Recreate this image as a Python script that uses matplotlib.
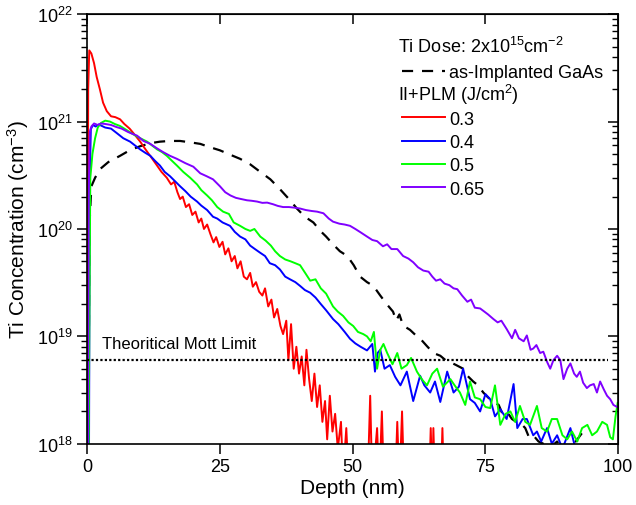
import numpy as np
import matplotlib
matplotlib.use('Agg')
import matplotlib.pyplot as plt
from matplotlib.lines import Line2D

plt.rcParams['font.family'] = ['Liberation Sans', 'DejaVu Sans']
plt.rcParams['mathtext.fontset'] = 'custom'
plt.rcParams['mathtext.rm'] = 'Liberation Sans'
plt.rcParams['mathtext.it'] = 'Liberation Sans:italic'

# depth (nm) and Ti concentration (cm^-3)
x_03 = [0.0, 0.2, 0.4, 0.8, 1.3, 1.8, 2.4, 3.0, 3.7, 4.5, 5.3, 6.2, 7.0, 8.0, 9.0, 10.0, 11.0, 12.0,
        13.0, 14.0, 15.0, 15.8, 16.4, 17.0, 17.5, 18.0, 18.6, 19.2, 19.8, 20.4, 21.0, 21.5, 22.0, 22.6,
        23.2, 23.8, 24.3, 24.9, 25.5, 26.0, 26.6, 27.2, 27.8, 28.3, 28.9, 29.5, 30.1, 30.7, 31.2, 31.8,
        32.4, 33.0, 33.5, 34.1, 34.7, 35.2, 35.8, 36.4, 36.9, 37.5, 37.9, 38.4, 38.9, 39.4, 39.9, 40.4,
        40.9, 41.3, 41.8, 42.3, 42.8, 43.3, 43.8, 44.3, 44.8, 45.2, 45.7, 46.2, 46.7, 47.2, 47.8, 48.2,
        48.8, 49.3, 52.8, 53.3, 53.7, 54.6, 55.0, 55.5, 55.9, 58.0, 58.4, 58.8, 59.3, 59.7, 64.4, 64.7,
        65.0, 65.2, 65.5, 66.6, 66.9, 67.2, 70.0]
c_03 = [1e17, 2e21, 4.6e21, 4.3e21, 3.5e21, 2.6e21, 2.0e21, 1.5e21, 1.25e21, 1.12e21, 1.1e21, 1.05e21,
        9.5e20, 8.6e20, 7.5e20, 6.5e20, 5.5e20, 4.7e20, 4.0e20, 3.4e20, 3.0e20, 2.6e20, 2.75e20, 2.2e20,
        1.9e20, 2.0e20, 1.6e20, 1.7e20, 1.35e20, 1.45e20, 1.15e20, 1.25e20, 1.0e20, 1.1e20, 9.0e19,
        7.5e19, 8.4e19, 6.8e19, 7.6e19, 5.8e19, 6.6e19, 5.0e19, 5.6e19, 4.3e19, 5.0e19, 3.6e19, 3.4e19,
        3.9e19, 2.9e19, 3.2e19, 2.6e19, 2.4e19, 2.8e19, 1.9e19, 2.2e19, 1.5e19, 1.8e19, 1.25e19, 1.05e19,
        1.4e19, 6e18, 1.3e19, 5.0e18, 8e18, 4.5e18, 6.5e18, 3.5e18, 7.5e18, 4e18, 2.5e18, 4.5e18, 2.2e18,
        3.5e18, 1.6e18, 2.5e18, 1.1e18, 2.8e18, 1.3e18, 1.9e18, 9e17, 1.6e18, 5e17, 1.4e18, 4e17, 4e17,
        2.8e18, 4e17, 1.4e18, 4e17, 2.0e18, 4e17, 4e17, 1.6e18, 4e17, 2.0e18, 4e17, 4e17, 1.4e18, 4e17,
        1.4e18, 4e17, 4e17, 1.4e18, 4e17, 4e17]

x_04 = [0.3, 0.5, 0.7, 1.1, 1.6, 2.2, 3.4, 4.5, 5.6, 6.8, 8.1, 9.0, 10.0, 11.0, 11.9, 12.8, 13.7, 14.6,
        15.6, 16.5, 17.5, 18.5, 19.5, 20.7, 21.5, 22.6, 23.7, 24.5, 25.5, 26.9, 27.8, 28.8, 29.8, 30.7,
        31.6, 32.6, 33.5, 34.4, 35.4, 36.3, 37.3, 38.2, 39.2, 40.1, 41.0, 42.0, 43.0, 44.0, 45.0, 46.3,
        47.3, 48.5, 49.5, 50.5, 51.5, 52.7, 53.7, 54.2, 54.7, 55.2, 56.0, 57.0, 58.0, 59.0, 60.2, 61.4,
        62.7, 63.5, 64.6, 65.5, 66.5, 67.8, 69.0, 70.0, 70.8, 72.1, 73.0, 74.0, 75.0, 75.9, 76.8, 77.8,
        79.0, 80.3, 81.0, 82.0, 82.8, 84.0, 84.7, 85.5, 86.6, 87.5, 88.5, 89.5, 91.0, 92.2]
c_04 = [1e17, 3e20, 8.5e20, 9.3e20, 9.0e20, 9.4e20, 8.8e20, 8.6e20, 7.8e20, 7.0e20, 6.5e20, 6.0e20,
        5.5e20, 5.1e20, 4.8e20, 4.3e20, 3.9e20, 3.4e20, 3.1e20, 2.8e20, 2.5e20, 2.25e20, 2.0e20, 1.8e20,
        1.65e20, 1.5e20, 1.3e20, 1.25e20, 1.15e20, 1.07e20, 9.4e19, 8.5e19, 8.0e19, 7.0e19, 6.5e19,
        6.0e19, 5.6e19, 4.8e19, 4.6e19, 4.2e19, 3.6e19, 3.4e19, 3.2e19, 2.95e19, 2.7e19, 2.55e19,
        2.3e19, 2.0e19, 1.75e19, 1.45e19, 1.3e19, 1.1e19, 9.5e18, 8.6e18, 8.0e18, 7.4e18, 8.5e18,
        4.7e18, 7e18, 7.5e18, 5.0e18, 5.4e18, 4.2e18, 3.5e18, 4.7e18, 2.5e18, 4.3e18, 3.5e18, 3.0e18,
        3.8e18, 2.45e18, 4.7e18, 3.0e18, 3.4e18, 5.0e18, 2.6e18, 2.4e18, 2.0e18, 2.9e18, 2.6e18,
        1.8e18, 2.1e18, 1.7e18, 3.6e18, 1.4e18, 1.7e18, 1.7e18, 1.2e18, 1.3e18, 1.05e18, 1.4e18,
        1.0e18, 1.2e18, 9e17, 1.4e18, 8e17]

x_05 = [0.2, 0.4, 0.6, 1.0, 1.5, 2.0, 2.6, 3.4, 4.3, 5.2, 6.2, 7.5, 8.7, 10.0, 11.3, 12.2, 13.2, 14.1,
        15.0, 16.0, 16.9, 18.1, 19.4, 20.7, 21.5, 22.6, 23.5, 24.5, 25.6, 26.7, 27.6, 28.8, 29.8, 30.7,
        31.5, 32.6, 33.6, 34.6, 35.4, 36.3, 37.3, 38.3, 39.2, 40.1, 41.2, 42.0, 43.0, 44.0, 45.0, 46.3,
        47.2, 48.2, 49.2, 50.1, 51.0, 52.0, 52.7, 53.4, 54.0, 54.6, 55.2, 55.8, 56.5, 57.5, 58.4, 59.2,
        60.2, 61.0, 62.1, 63.0, 64.0, 65.0, 65.9, 67.0, 68.4, 69.2, 70.2, 71.2, 72.1, 73.0, 74.0, 75.0,
        75.9, 76.8, 77.8, 78.8, 79.7, 80.6, 81.5, 82.5, 83.4, 84.7, 85.6, 86.6, 87.5, 88.5, 89.5, 90.4,
        91.3, 92.3, 93.2, 94.2, 95.1, 96.0, 97.0, 97.9, 98.5, 99.0, 99.5, 99.9]
c_05 = [1e17, 1e19, 3e20, 5e20, 7e20, 8.8e20, 9.7e20, 1.02e21, 1.0e21, 9.5e20, 9.1e20, 8.3e20, 7.6e20,
        7.0e20, 6.5e20, 6.0e20, 5.5e20, 5.2e20, 4.8e20, 4.3e20, 3.9e20, 3.4e20, 3.0e20, 2.6e20, 2.3e20,
        2.05e20, 1.85e20, 1.6e20, 1.45e20, 1.38e20, 1.15e20, 1.07e20, 1.0e20, 9.6e19, 1.0e20, 8.5e19,
        7.8e19, 7.0e19, 6.2e19, 5.6e19, 5.2e19, 5.0e19, 4.8e19, 4.6e19, 3.8e19, 3.3e19, 3.4e19, 2.8e19,
        2.5e19, 1.9e19, 1.7e19, 1.55e19, 1.35e19, 1.25e19, 1.1e19, 1.05e19, 1.0e19, 9e18, 1.1e19,
        5.0e18, 7.5e18, 8.5e18, 7.0e18, 5.5e18, 7.0e18, 5.0e18, 5.4e18, 6.3e18, 4.7e18, 4.0e18, 3.5e18,
        4.5e18, 5.0e18, 3.4e18, 4.0e18, 3.5e18, 3.0e18, 2.3e18, 3.8e18, 2.7e18, 2.6e18, 2.2e18, 2.15e18,
        3.5e18, 1.5e18, 1.9e18, 2.0e18, 1.6e18, 2.25e18, 1.6e18, 1.5e18, 2.25e18, 1.4e18, 1.3e18,
        1.7e18, 1.7e18, 1.2e18, 1.1e18, 1.3e18, 1.05e18, 1.4e18, 1.5e18, 1.2e18, 1.3e18, 1.6e18, 1.5e18,
        1.15e18, 1.1e18, 1.8e18, 2.4e18]

x_065 = [0.1, 0.3, 0.5, 0.8, 1.3, 2.0, 2.6, 3.4, 4.5, 5.5, 6.5, 7.7, 8.5, 9.4, 10.6, 11.9, 13.0, 14.3,
         15.6, 16.9, 18.5, 20.0, 21.3, 22.5, 23.7, 25.0, 26.0, 27.0, 28.0, 29.0, 30.1, 31.0, 32.0, 33.0,
         33.9, 35.0, 35.9, 36.9, 38.0, 39.0, 40.1, 41.2, 42.3, 43.3, 44.5, 45.5, 46.3, 47.5, 48.5, 49.5,
         50.5, 51.5, 52.7, 53.7, 54.6, 55.7, 56.5, 57.3, 58.4, 59.5, 60.5, 61.4, 62.3, 63.3, 64.3, 65.0,
         65.7, 66.5, 67.3, 68.2, 69.0, 69.7, 70.6, 71.6, 72.3, 73.0, 74.0, 74.8, 75.5, 76.5, 77.3, 78.0,
         79.0, 80.0, 80.6, 81.3, 82.2, 82.8, 83.5, 84.0, 84.6, 85.3, 85.9, 86.6, 87.2, 87.8, 88.5, 89.1,
         89.7, 90.4, 91.0, 91.7, 92.2, 92.8, 93.4, 94.1, 94.7, 95.4, 96.0, 96.6, 97.3, 97.9, 98.5, 99.1,
         99.8]
c_065 = [1e17, 2e20, 8e20, 9.0e20, 9.6e20, 9.3e20, 9.6e20, 9.5e20, 9.3e20, 8.9e20, 8.6e20, 8.0e20,
         7.7e20, 7.4e20, 6.6e20, 6.2e20, 5.7e20, 5.2e20, 4.8e20, 4.5e20, 4.1e20, 3.8e20, 3.3e20, 3.1e20,
         2.9e20, 2.5e20, 2.2e20, 2.05e20, 1.95e20, 1.9e20, 1.85e20, 1.83e20, 1.8e20, 1.75e20, 1.76e20,
         1.7e20, 1.64e20, 1.6e20, 1.6e20, 1.58e20, 1.55e20, 1.5e20, 1.47e20, 1.45e20, 1.4e20, 1.25e20,
         1.17e20, 1.12e20, 1.1e20, 1.07e20, 1.0e20, 9.3e19, 8.5e19, 7.9e19, 7.7e19, 6.9e19, 7.2e19,
         6.5e19, 6.5e19, 5.6e19, 5.3e19, 4.9e19, 4.4e19, 4.1e19, 4.0e19, 3.6e19, 3.3e19, 3.4e19, 3.1e19,
         3.0e19, 2.8e19, 2.75e19, 2.4e19, 2.1e19, 2.2e19, 1.85e19, 1.82e19, 1.7e19, 1.6e19, 1.45e19,
         1.35e19, 1.4e19, 1.17e19, 9.6e18, 1.15e19, 9.6e18, 9.0e18, 1.02e19, 7.5e18, 7.7e18, 8.3e18,
         7.0e18, 7.2e18, 5.8e18, 5.0e18, 6.0e18, 6.6e18, 6.0e18, 4.0e18, 5.0e18, 5.6e18, 4.5e18, 4.2e18,
         4.7e18, 3.7e18, 3.3e18, 3.5e18, 3.6e18, 3.0e18, 3.8e18, 3.2e18, 2.8e18, 2.6e18, 2.3e18, 2.2e18]

x_imp = [0.2, 0.4, 0.8, 1.5, 2.4, 4.0, 6.2, 8.0, 10.0, 12.0, 13.7, 15.5, 17.5, 19.5, 21.3, 23.0, 25.0,
         27.0, 28.8, 30.7, 32.6, 34.5, 36.3, 38.0, 39.5, 41.0, 42.6, 44.0, 45.0, 46.3, 47.6, 49.0, 50.2,
         51.4, 52.7, 53.9, 55.2, 56.4, 57.6, 58.2, 58.8, 59.5, 60.8, 62.1, 63.0, 64.0, 65.2, 66.5, 67.5,
         68.4, 69.5, 70.8, 71.6, 72.7, 73.6, 74.6, 75.5, 76.5, 77.5, 78.2, 79.0, 80.0, 80.8, 81.5, 82.5,
         83.2, 84.0, 85.0, 85.9, 87.0, 88.5, 90.0, 91.0, 92.0, 93.4]
c_imp = [1e17, 1e20, 2.5e20, 3.0e20, 3.6e20, 4.2e20, 4.8e20, 5.4e20, 5.9e20, 6.3e20, 6.5e20, 6.6e20,
         6.6e20, 6.4e20, 6.2e20, 5.8e20, 5.4e20, 4.9e20, 4.5e20, 4.0e20, 3.4e20, 2.9e20, 2.35e20,
         1.9e20, 1.55e20, 1.3e20, 1.15e20, 9.5e19, 8.5e19, 7.2e19, 6.2e19, 5.6e19, 4.6e19, 3.6e19,
         3.2e19, 2.95e19, 2.4e19, 2.0e19, 1.7e19, 1.4e19, 1.6e19, 1.26e19, 1.15e19, 1.0e19, 9.2e18,
         8.1e18, 7.0e18, 6.6e18, 6.0e18, 5.75e18, 5.4e18, 5.0e18, 4.3e18, 3.8e18, 3.5e18, 3.0e18,
         2.7e18, 2.45e18, 2.3e18, 1.9e18, 2.0e18, 1.7e18, 1.6e18, 1.58e18, 1.4e18, 1.15e18, 1.2e18,
         1.05e18, 1.0e18, 9e17, 1.05e18, 8e17, 9.5e17, 1.05e18, 1.3e18]

mott_limit = 6e18
mott_x = [0, 98]

fig, ax = plt.subplots(figsize=(6.36, 5.06), dpi=100)
fig.subplots_adjust(left=0.137, right=0.972, bottom=0.121, top=0.970)

lw = 1.4
h_imp, = ax.plot(x_imp, c_imp, color='black', lw=1.6, ls=(0, (5, 4)))
h03, = ax.plot(x_03, c_03, color='#ff0000', lw=lw)
h04, = ax.plot(x_04, c_04, color='#0000ff', lw=lw)
h05, = ax.plot(x_05, c_05, color='#00ff00', lw=lw)
h065, = ax.plot(x_065, c_065, color='#8000ff', lw=lw)
ax.plot(mott_x, [mott_limit, mott_limit], color='black', lw=1.6, ls=(0, (1, 1)))
ax.text(2.8, 8.5e18, 'Theoritical Mott Limit', fontsize=12, va='center', ha='left')

ax.set_yscale('log')
ax.set_xlim(0, 100)
ax.set_ylim(1e18, 1e22)
ax.set_xticks([0, 25, 50, 75, 100])
ax.set_xlabel('Depth (nm)', fontsize=15, labelpad=2)
ax.set_ylabel('Ti Concentration (cm$^{-3}$)', fontsize=15, labelpad=4)
ax.tick_params(axis='both', which='major', labelsize=13, direction='out', length=7, width=1.1)
ax.tick_params(axis='y', which='minor', direction='out', length=4, width=1)
for s in ax.spines.values():
    s.set_linewidth(1.2)

top = ax.secondary_xaxis('top')
top.set_xticks([0, 25, 50, 75, 100])
top.tick_params(direction='in', length=7, width=1.1, labeltop=False)
right = ax.secondary_yaxis('right')
right.tick_params(which='major', direction='in', length=7, width=1.1, labelright=False)
right.tick_params(which='minor', direction='in', length=4, width=1)

blank = Line2D([], [], color='none')
leg = ax.legend([blank, h_imp, blank, h03, h04, h05, h065],
                ['', 'as-Implanted GaAs', '', '0.3', '0.4', '0.5', '0.65'],
                loc='upper left', bbox_to_anchor=(0.58, 0.955), frameon=False, fontsize=13,
                handlelength=2.35, handletextpad=0.25, labelspacing=0.35, borderaxespad=0)
ax.text(0.586, 0.926, 'Ti Dose: 2x10$^{15}$cm$^{-2}$', transform=ax.transAxes, fontsize=13,
        va='center', ha='left')
ax.text(0.586, 0.814, 'II+PLM (J/cm$^{2}$)', transform=ax.transAxes, fontsize=13,
        va='center', ha='left')

fig.savefig('out.png', dpi=100)
